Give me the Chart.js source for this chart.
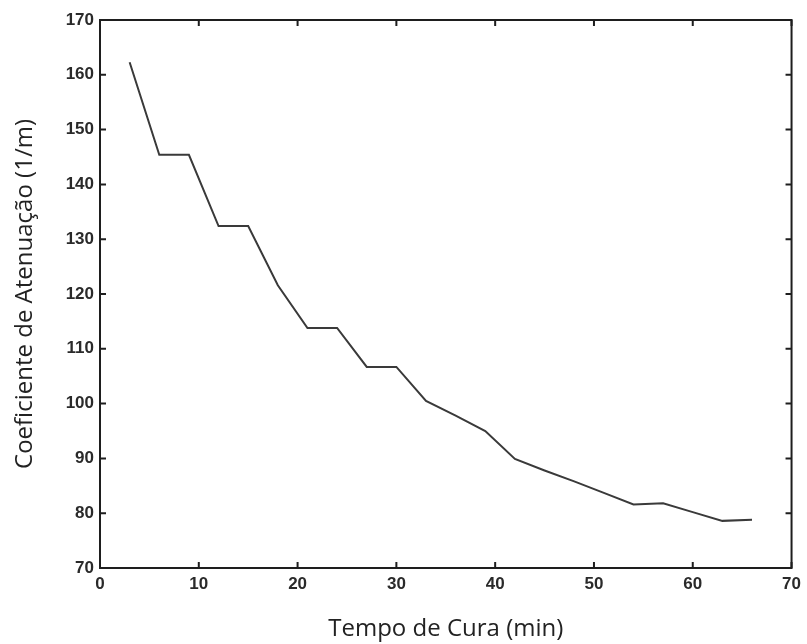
<!DOCTYPE html>
<html>
<head>
<meta charset="utf-8">
<script src="https://cdn.jsdelivr.net/npm/chart.js@4/dist/chart.umd.min.js"></script>
<style>
  html, body { margin: 0; padding: 0; background: #fff; }
  #wrap { width: 807px; height: 644px; position: relative; }
</style>
</head>
<body>
<div id="wrap"><canvas id="curaChart"></canvas></div>
<script>
// dados
const tempoCura = [3, 6, 9, 12, 15, 18, 21, 24, 27, 30, 33, 36, 39, 42, 45, 48, 51, 54, 57, 60, 63, 66];
const coeficiente = [162.3, 145.4, 145.4, 132.4, 132.4, 121.6, 113.8, 113.8, 106.7, 106.7, 100.5, 97.8, 95.0, 89.9, 87.8, 85.8, 83.7, 81.6, 81.8, 80.2, 78.6, 78.8];
const xTicks = [0, 10, 20, 30, 40, 50, 60, 70];
const yTicks = [70, 80, 90, 100, 110, 120, 130, 140, 150, 160, 170];

const frameColor = '#1e1e1e';

// caixa + ticks para dentro (estilo matlab)
const boxTicks = {
    id: 'boxTicks',
    afterDraw(chart) {
        const { ctx, chartArea: a, scales } = chart;
        const len = 6;
        ctx.save();
        ctx.strokeStyle = frameColor;
        ctx.lineWidth = 2;
        ctx.strokeRect(a.left, a.top, a.right - a.left, a.bottom - a.top);
        ctx.beginPath();
        xTicks.forEach(v => {
            const px = scales.x.getPixelForValue(v);
            ctx.moveTo(px, a.bottom); ctx.lineTo(px, a.bottom - len);
            ctx.moveTo(px, a.top); ctx.lineTo(px, a.top + len);
        });
        yTicks.forEach(v => {
            const py = scales.y.getPixelForValue(v);
            ctx.moveTo(a.left, py); ctx.lineTo(a.left + len, py);
            ctx.moveTo(a.right, py); ctx.lineTo(a.right - len, py);
        });
        ctx.stroke();
        ctx.restore();
    }
};

const tickFont = { family: '"Liberation Sans", Arial, sans-serif', size: 17, weight: 'bold' };
const titleFont = { family: '"Open Sans", sans-serif', size: 24 };

new Chart(document.getElementById('curaChart'), {
    type: 'line',
    data: {
        datasets: [{
            data: tempoCura.map((t, i) => ({ x: t, y: coeficiente[i] })),
            borderColor: '#3a3a3a',
            borderWidth: 2,
            pointRadius: 0,
            tension: 0,
            fill: false
        }]
    },
    options: {
        responsive: true,
        maintainAspectRatio: false,
        animation: false,
        layout: { padding: { top: 20, right: 15, left: 0, bottom: 0 } },
        plugins: { legend: { display: false }, tooltip: { enabled: false } },
        scales: {
            x: {
                type: 'linear',
                min: 0, max: 70,
                afterBuildTicks: s => { s.ticks = xTicks.map(v => ({ value: v })); },
                afterFit: s => { s.height = 76; },
                grid: { display: false, drawTicks: false },
                border: { display: false },
                ticks: { color: '#2a2a2a', font: tickFont, padding: 6, maxRotation: 0 },
                title: { display: true, text: 'Tempo de Cura (min)', color: '#222', font: titleFont, padding: { top: 0, bottom: 0 } }
            },
            y: {
                min: 70, max: 170,
                afterBuildTicks: s => { s.ticks = yTicks.map(v => ({ value: v })); },
                afterFit: s => { s.width = 100; },
                grid: { display: false, drawTicks: false },
                border: { display: false },
                ticks: { color: '#2a2a2a', font: tickFont, padding: 6 },
                title: { display: true, text: 'Coeficiente de Atenuação (1/m)', color: '#222', font: titleFont, padding: { top: 11, bottom: 0 } }
            }
        }
    },
    plugins: [boxTicks]
});
</script>
</body>
</html>
